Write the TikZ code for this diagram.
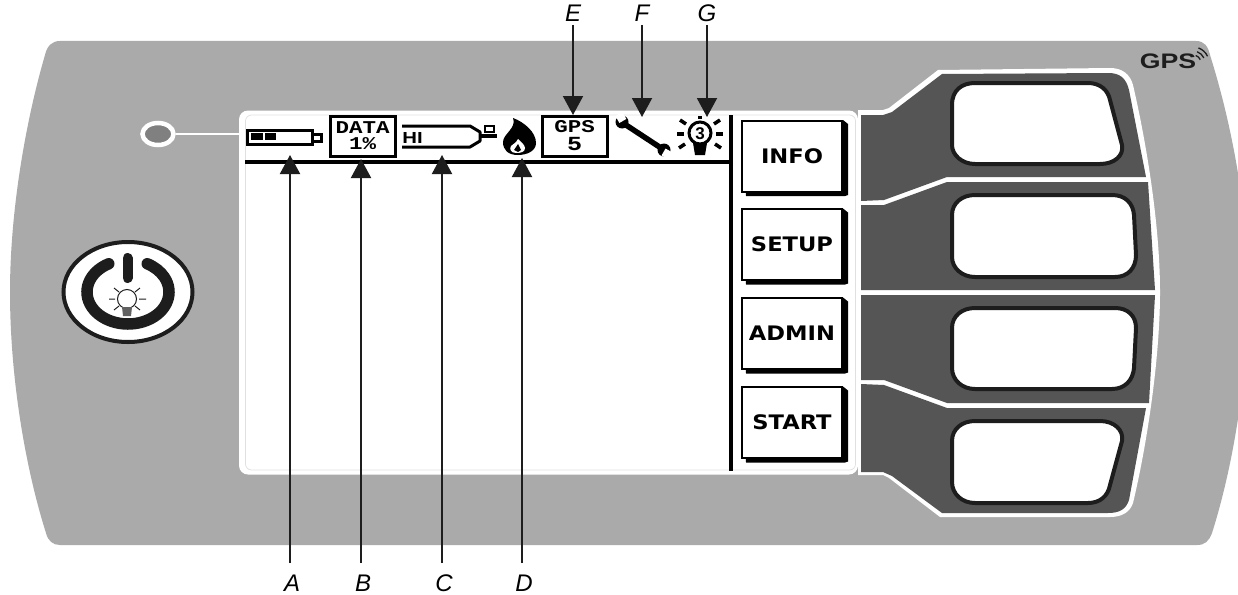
\documentclass[tikz,border=0pt]{standalone}
\usepackage{fontspec}
\setmainfont{Liberation Sans}
\newfontfamily\keyfont{DejaVu Sans}[FakeStretch=1.13]
\newfontfamily\lcdfont{Liberation Mono}[FakeStretch=1.25]
\newfontfamily\logofont{Liberation Sans}[FakeStretch=1.27]
\usetikzlibrary{arrows.meta, positioning, shapes.geometric}

\begin{document}
\begin{tikzpicture}[
        x=1pt, y=-1pt,
        panel/.style={fill=panelgray},
        softkey/.style={draw=keyblack, line width=4pt, fill=white, line join=round},
        segment/.style={fill=darkgray2},
        menukey/.style={rectangle, draw=black, line width=2pt, fill=white, minimum width=100pt, minimum height=71pt, inner sep=0pt, font=\keyfont\bfseries\fontsize{20}{24}\selectfont},
        lcdbox/.style={rectangle, draw=black, line width=3pt, fill=white, minimum width=65pt, minimum height=40pt, inner sep=0pt, align=center, font=\lcdfont\bfseries\fontsize{18}{16}\selectfont},
        letter/.style={inner sep=0pt, font=\itshape\fontsize{24}{26}\selectfont},
        callout/.style={-{Stealth[length=19pt, width=20pt, inset=0pt]}, line width=2pt, draw=keyblack},
        ray/.style={line width=3.5pt, black},
    ]
        \definecolor{panelgray}{HTML}{ABAAAB}
        \definecolor{darkgray2}{HTML}{565556}
        \definecolor{keyblack}{HTML}{1E1D1E}
        \useasboundingbox (0,0) rectangle (1238,594);
        \fill[white] (0,0) rectangle (1238,594);

        % Housing
        \fill[panel] (60,41) -- (1196,41) .. controls (1204,41) and (1208,46) .. (1210,55)
            .. controls (1232,125) and (1248,210) .. (1248,292)
            .. controls (1248,380) and (1232,470) .. (1212,533)
            .. controls (1209,541) and (1205,545) .. (1197,545) -- (60,545)
            .. controls (53,545) and (48,541) .. (46,533)
            .. controls (26,470) and (10,380) .. (10,292)
            .. controls (10,210) and (26,120) .. (45,55)
            .. controls (47,46) and (52,41) .. (60,41) -- cycle;

        % Soft key surround
        \fill[white] (858,110) -- (883,110) -- (889,108) -- (938,70) -- (1110,68)
            .. controls (1122,68) and (1130,74) .. (1133,85)
            .. controls (1148,150) and (1160,230) .. (1160,292)
            .. controls (1160,355) and (1148,440) .. (1133,503)
            .. controls (1130,512) and (1122,517) .. (1110,517)
            -- (940,517) -- (889,478) -- (883,475) -- (858,475) -- cycle;
        \fill[segment] (861,115) -- (883,115) -- (892,112) -- (942,74) -- (1108,73)
            .. controls (1120,73) and (1126,78) .. (1129,90) -- (1146,177) -- (947,177)
            -- (884,200) -- (861,201) -- cycle;
        \fill[segment] (861,205) -- (884,205) -- (947,182) -- (1148,182) -- (1155,290) -- (861,290) -- cycle;
        \fill[segment] (861,295) -- (1155,295) -- (1149,403) -- (947,403) -- (884,380) -- (861,380) -- cycle;
        \fill[segment] (861,384) -- (884,385) -- (947,408) -- (1146,408) -- (1129,500)
            .. controls (1126,509) and (1120,513) .. (1108,513) -- (942,513) -- (892,476) -- (883,472) -- (861,472) -- cycle;

        % Soft keys
        \draw[softkey] (952,105) .. controls (952,90) and (962,83) .. (975,83) -- (1088,83)
            .. controls (1100,83) and (1108,90) .. (1110,100) -- (1122,145)
            .. controls (1124,156) and (1114,164) .. (1100,164) -- (975,164)
            .. controls (962,164) and (952,155) .. (952,145) -- cycle;
        \draw[softkey] (952,215) .. controls (952,203) and (962,195) .. (975,195) -- (1112,195)
            .. controls (1125,195) and (1133,203) .. (1134,215) -- (1136,255)
            .. controls (1136,268) and (1128,277) .. (1115,277) -- (975,277)
            .. controls (962,277) and (952,268) .. (952,257) -- cycle;
        \draw[softkey] (952,328) .. controls (952,316) and (962,308) .. (975,308) -- (1115,308)
            .. controls (1128,308) and (1136,316) .. (1136,328) -- (1134,368)
            .. controls (1133,380) and (1125,389) .. (1112,389) -- (975,389)
            .. controls (962,389) and (952,380) .. (952,368) -- cycle;
        \draw[softkey] (952,441) .. controls (952,429) and (962,421) .. (975,421) -- (1100,421)
            .. controls (1114,421) and (1124,430) .. (1122,441) -- (1110,485)
            .. controls (1108,496) and (1100,503) .. (1088,503) -- (975,503)
            .. controls (962,503) and (952,494) .. (952,482) -- cycle;

        % Screen
        \node[rectangle, rounded corners=9pt, fill=white, minimum width=619pt, minimum height=364pt, inner sep=0pt] (screen) at (548.5,292.5) {};
        \node[rectangle, rounded corners=6pt, draw=black!12, line width=0.7pt, minimum width=610pt, minimum height=355pt, inner sep=0pt] (screenline) at (550.5,292.5) {};
        \draw[line width=4.5pt] (731,115) -- (731,471);
        \draw[line width=4pt] (245,162) -- (731,162);

        % Menu keys
        \foreach \name/\label/\ypos in {info/INFO/156, setup/SETUP/244.5, admin/ADMIN/333.5, start/START/422.5} {
            \fill[black] (744,\ypos-32) -- (843,\ypos-36) -- (848,\ypos-32) -- (848,\ypos+39) -- (845,\ypos+40) -- (746,\ypos+40) -- cycle;
            \node[menukey] (\name) at (792,\ypos) {\label};
        }

        % Status bar: battery
        \draw[line width=3pt] (247,130) rectangle (312,144);
        \draw[line width=3pt] (312,134) rectangle (321,141);
        \fill (251,133) rectangle (263,140);
        \fill (265,133) rectangle (276,140);

        % Status bar: data box
        \node[lcdbox] (databox) at (362.5,136) {DATA\\1\%};

        % Status bar: tank
        \draw[line width=3pt, line join=round] (402,126) -- (470,126) -- (480,132) -- (480,141) -- (470,147) -- (402,147);
        \node[inner sep=0pt, font=\logofont\bfseries\fontsize{16}{16}\selectfont] (hi) at (412.5,138) {HI};
        \draw[line width=3.5pt] (480,136) -- (497,136);
        \draw[line width=2.5pt] (485,126) rectangle (494,132);

        % Status bar: flame
        \fill (518,155) .. controls (508,155) and (503,150) .. (503,142)
            .. controls (503,134) and (517,128) .. (513,118)
            .. controls (524,122) and (536,132) .. (536,143)
            .. controls (536,151) and (527,155) .. (518,155) -- cycle;
        \fill[white] (516,153) .. controls (511,153) and (509,149) .. (511,146)
            .. controls (513,144) and (516,143) .. (518,139)
            .. controls (521,142) and (525,145) .. (525,148)
            .. controls (525,152) and (521,153) .. (516,153) -- cycle;
        \fill (518,152) -- (514,150) -- (518,144) -- (521,150) -- cycle;

        % Status bar: GPS box
        \node[lcdbox] (gpsbox) at (574.5,136) {GPS\\[2pt]{\fontsize{20}{16}\selectfont 5}};

        % Status bar: wrench
        \draw[line width=5.5pt] (626,125) -- (661,148);
        \fill (622,122) circle (6.5);
        \fill (664,150) circle (6.5);
        \fill[white, rotate around={-60:(620,118)}] (616,113) rectangle (624,121);
        \fill[white, rotate around={-30:(667,154)}] (663,150) rectangle (671,158);

        % Status bar: lamp
        \draw[line width=3pt] (700,133) circle (11);
        \node[inner sep=0pt, font=\bfseries\fontsize{17}{17}\selectfont] (lampnum) at (700,133.5) {3};
        \fill (693,143) -- (707,143) -- (705,155) -- (695,155) -- cycle;
        \draw[ray] (700,116) -- (700,119);
        \draw[ray] (680,120) -- (686,124);
        \draw[ray] (720,120) -- (714,124);
        \draw[ray] (677,134) -- (684,134);
        \draw[ray] (716,134) -- (723,134);
        \draw[ray] (679,148) -- (685,144);
        \draw[ray] (721,148) -- (715,144);

        % Status lamp
        \node[ellipse, draw=white, line width=4.5pt, fill=black!50, minimum width=31pt, minimum height=22pt, inner sep=0pt] (led) at (158,134) {};
        \coordinate (ledend) at (245,134);
        \draw[white, line width=1.4pt] (led) -- (ledend);

        % Power key
        \node[ellipse, draw=keyblack, line width=4pt, fill=white, minimum width=129pt, minimum height=100pt, inner sep=0pt] (power) at (128,292) {};
        \draw[keyblack, line width=11.5pt, line cap=round] (128,292) ++(-118:41 and 32) arc[start angle=-118, end angle=-422, x radius=41, y radius=32];
        \draw[keyblack, line width=10pt, line cap=round] (127.5,258) -- (127.5,278);
        \draw[keyblack, line width=1pt] (127,299) circle (9.5);
        \fill[keyblack!70] (122,307) -- (132,307) -- (131,316) -- (123,316) -- cycle;
        \draw[keyblack, line width=1pt] (109,299) -- (115,299) (139,299) -- (146,299)
            (114,288) -- (119,292) (140,288) -- (135,292) (114,310) -- (119,306) (140,310) -- (135,306);

        % Logo
        \node[inner sep=0pt, font=\logofont\bfseries\fontsize{21}{21}\selectfont, text=keyblack] (logo) at (1168,61) {GPS};
        \draw[keyblack, line width=1.3pt]
            (1193,63) ++(-70:8) arc[start angle=-70, end angle=-25, radius=8]
            (1193,63) ++(-70:12) arc[start angle=-70, end angle=-25, radius=12]
            (1193,63) ++(-70:16) arc[start angle=-70, end angle=-25, radius=16];

        % Callouts from below
        \foreach \name/\xpos/\tip in {A/290/155, B/361/159, C/442/155, D/522/158} {
            \coordinate (\name start) at (\xpos,563);
            \coordinate (\name tip) at (\xpos,\tip);
            \draw[callout] (\name start) -- (\name tip);
            \node[letter] (\name label) at (\xpos+2,583) {\name};
        }
        % Callouts from above
        \foreach \name/\xpos/\tip in {E/573/115, F/642/117, G/707/117} {
            \coordinate (\name start) at (\xpos,25);
            \coordinate (\name tip) at (\xpos,\tip);
            \draw[callout] (\name start) -- (\name tip);
            \node[letter] (\name label) at (\xpos,13) {\name};
        }
    \end{tikzpicture}
\end{document}
